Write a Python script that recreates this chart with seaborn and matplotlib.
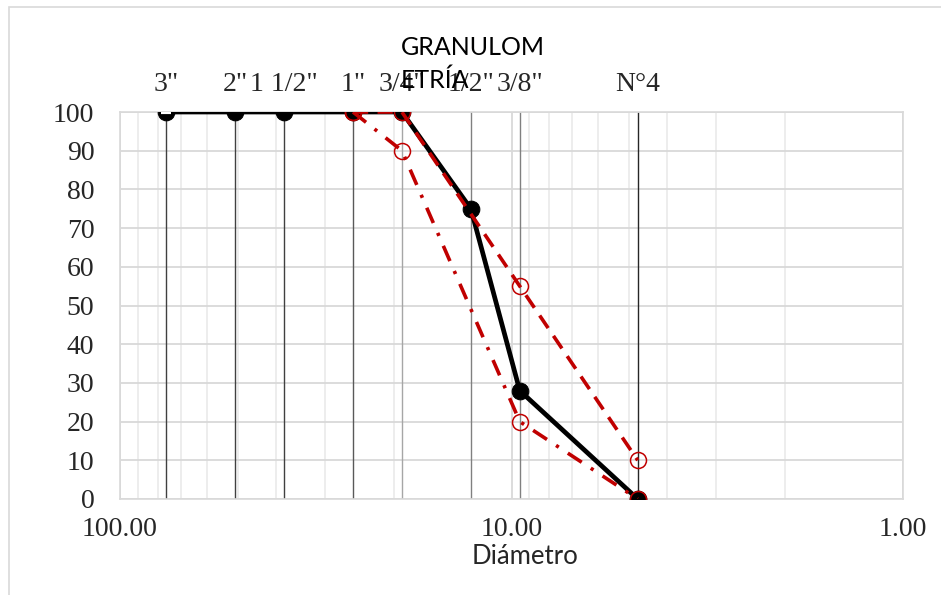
import matplotlib
matplotlib.use("Agg")
import matplotlib.pyplot as plt
import matplotlib.patches as mpatches
from matplotlib.ticker import FixedLocator, LogLocator, NullFormatter
import seaborn as sns
import pandas as pd

# ---- data ----
sieve_labels = ['3"', '2"', '1 1/2"', '1"', '3/4"', '1/2"', '3/8"', 'N°4']
sieve_mm = [76.2, 50.8, 38.1, 25.4, 19.05, 12.7, 9.525, 4.76]
sieve_line_colors = ['#404040', '#404040', '#404040', '#595959', '#a6a6a6', '#808080', '#808080', '#262626']

sample_mm = [76.2, 50.8, 38.1, 25.4, 19.05, 12.7, 9.525, 4.76]
sample_pass = [100, 100, 100, 100, 100, 75, 28, 0]

upper_mm = [25.4, 19.05, 9.525, 4.76]
upper_pass = [100, 100, 55, 10]

lower_mm = [25.4, 19.05, 9.525, 4.76]
lower_pass = [100, 90, 20, 0]

cap_mm = [76.2]
cap_pass = [100]

x_ticks = [100, 10, 1]
x_tick_labels = ["100.00", "10.00", "1.00"]
y_ticks = list(range(0, 101, 10))

title = "GRANULOM\nETRÍA"
xlabel = "Diámetro"

# ---- style ----
sns.set_style("white")
plt.rcParams["font.family"] = ["Liberation Serif", "DejaVu Serif"]

SERIF = ["Liberation Serif", "DejaVu Serif"]
SANS = ["Lato", "DejaVu Sans"]
GRID = "#d9d9d9"
MINOR = "#ececec"
RED = "#c00000"

fig = plt.figure(figsize=(9.41, 5.95), dpi=100)
ax = fig.add_axes([120 / 941, 1 - 499 / 595, (903 - 120) / 941, (499 - 112) / 595])

ax.set_xscale("log")
ax.set_xlim(100, 1)
ax.set_ylim(0, 100)

# grid
ax.xaxis.set_major_locator(FixedLocator(x_ticks))
ax.xaxis.set_minor_locator(LogLocator(base=10, subs=range(2, 10)))
ax.xaxis.set_minor_formatter(NullFormatter())
ax.set_xticks(x_ticks, labels=x_tick_labels)
ax.set_yticks(y_ticks)
ax.grid(which="major", axis="y", color=GRID, lw=1.3)
ax.grid(which="major", axis="x", color=GRID, lw=1.3)
ax.grid(which="minor", axis="x", color=MINOR, lw=1.3)
ax.set_axisbelow(True)
for s in ax.spines.values():
    s.set_color(GRID)
    s.set_linewidth(1.2)

# sieve vertical lines
ax.vlines(sieve_mm, 0, 100, colors=sieve_line_colors, lw=1.0, zorder=1.5)

# series
df_s = pd.DataFrame({"d": sample_mm, "p": sample_pass})
df_u = pd.DataFrame({"d": upper_mm, "p": upper_pass})
df_l = pd.DataFrame({"d": lower_mm, "p": lower_pass})

sns.lineplot(data=df_s, x="d", y="p", ax=ax, sort=False, color="black", linewidth=3.4,
             marker="o", markersize=12, markeredgecolor="black", zorder=3)
sns.lineplot(x=cap_mm, y=cap_pass, ax=ax, color="#b0b0b0", marker="_", markersize=7,
             markeredgewidth=3, linewidth=0, zorder=3.2)
sns.lineplot(data=df_u, x="d", y="p", ax=ax, sort=False, color=RED, linewidth=2.6,
             linestyle=(0, (4.2, 2.6)), marker="o", markersize=11.5,
             markerfacecolor="none", markeredgecolor=RED, markeredgewidth=1.1, zorder=4)
sns.lineplot(data=df_l, x="d", y="p", ax=ax, sort=False, color=RED, linewidth=2.6,
             linestyle=(0, (4.6, 3.0, 0.9, 3.0)), marker="o", markersize=11.5,
             markerfacecolor="none", markeredgecolor=RED, markeredgewidth=1.1, zorder=4)

# ticks / labels
ax.tick_params(axis="both", which="both", length=0)
ax.tick_params(axis="y", pad=18.5, labelsize=20)
ax.tick_params(axis="x", pad=13, labelsize=20)
for t in ax.get_xticklabels() + ax.get_yticklabels():
    t.set_fontfamily(SERIF)

ax.set_ylabel("")
ax.set_xlabel(xlabel, fontsize=18.5, fontfamily=SANS)
ax.xaxis.set_label_coords((525 - 120) / 783, (499 - 557) / 387)
ax.xaxis.label.set_va("center")

# top sieve labels
sec = ax.secondary_xaxis("top")
sec.set_xticks(sieve_mm, labels=sieve_labels)
sec.xaxis.set_minor_locator(FixedLocator([]))
sec.tick_params(axis="x", which="both", length=0, pad=11, labelsize=20)
for t in sec.get_xticklabels():
    t.set_fontfamily(SERIF)
sec.spines["top"].set_visible(False)

# title (left-aligned block, as in reference)
fig.text(401 / 941, 1 - 64 / 595, title, ha="left", va="center", fontsize=18,
         fontfamily=SANS, linespacing=1.45, multialignment="left", color="black")

# chart-area border
fig.add_artist(mpatches.Rectangle((9 / 941, -0.1), 2, 1 - 7 / 595 + 0.1,
                                  transform=fig.transFigure, fill=False,
                                  edgecolor=GRID, lw=1.2))

fig.savefig("out.png", dpi=100)
